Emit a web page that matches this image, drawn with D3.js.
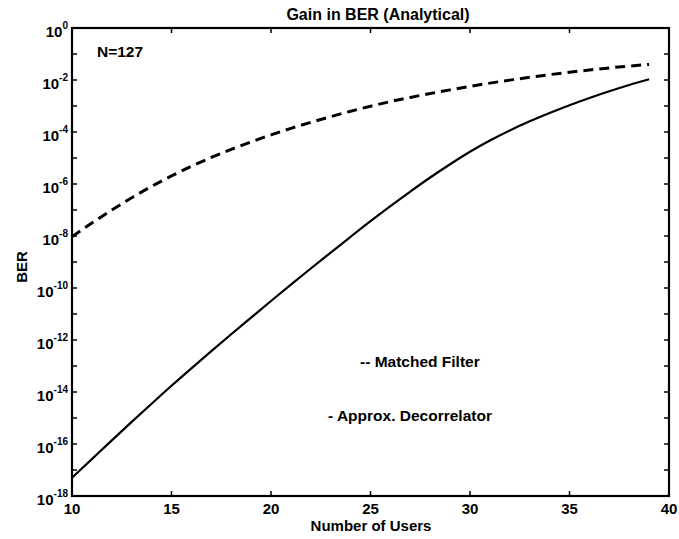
<!DOCTYPE html>
<html>
<head>
<meta charset="utf-8">
<script src="https://cdn.jsdelivr.net/npm/d3@7"></script>
<style>
  body { margin: 0; background: #fff; }
  svg text { font-family: "Liberation Sans", Arial, sans-serif; font-weight: bold; fill: #000; }
</style>
</head>
<body>
<div id="chart"></div>
<script>
// number of users
var users = [10, 11, 12, 13, 14, 15, 16, 17, 18, 19, 20, 21, 22, 23, 24,
             25, 26, 27, 28, 29, 30, 31, 32, 33, 34, 35, 36, 37, 38, 39];
// log10(BER), matched filter (dashed)
var matchedLog = [-8.03, -7.50, -7.00, -6.53, -6.09, -5.69, -5.32, -4.98, -4.67, -4.38,
                  -4.11, -3.86, -3.63, -3.41, -3.20, -3.01, -2.83, -2.67, -2.52, -2.38,
                  -2.245, -2.12, -2.005, -1.895, -1.795, -1.70, -1.615, -1.535, -1.465, -1.40];
// log10(BER), approx. decorrelator (solid)
var decorrLog = [-17.30, -16.58, -15.86, -15.15, -14.45, -13.76, -13.09, -12.43, -11.78, -11.14,
                 -10.50, -9.87, -9.25, -8.64, -8.03, -7.43, -6.85, -6.29, -5.75, -5.24,
                 -4.76, -4.33, -3.94, -3.59, -3.27, -2.97, -2.69, -2.43, -2.19, -1.97];
var xTicks = [10, 15, 20, 25, 30, 35, 40];
var yExps = d3.range(-18, 1);          // tick at every decade
var yLabelExps = d3.range(-18, 1, 2);  // label every second decade

var width = 679, height = 539;
var margin = {left: 72, right: 10, top: 28, bottom: 43};

var svg = d3.select("#chart").append("svg")
    .attr("width", width).attr("height", height);

var x = d3.scaleLinear().domain([10, 40]).range([margin.left, width - margin.right]);
var y = d3.scaleLog().domain([1e-18, 1]).range([height - margin.bottom, margin.top]);

var x0 = x.range()[0], x1 = x.range()[1], y0 = y.range()[0], y1 = y.range()[1];

// ticks on all four sides, pointing inward
var tickLen = 5;
var ticks = svg.append("g").attr("stroke", "#000").attr("stroke-width", 1.5);
xTicks.forEach(function(t) {
    ticks.append("line").attr("x1", x(t)).attr("x2", x(t)).attr("y1", y0).attr("y2", y0 - tickLen);
    ticks.append("line").attr("x1", x(t)).attr("x2", x(t)).attr("y1", y1).attr("y2", y1 + tickLen);
});
yExps.forEach(function(e) {
    var yy = y(Math.pow(10, e));
    ticks.append("line").attr("x1", x0).attr("x2", x0 + tickLen).attr("y1", yy).attr("y2", yy);
    ticks.append("line").attr("x1", x1).attr("x2", x1 - tickLen).attr("y1", yy).attr("y2", yy);
});

// frame
svg.append("rect")
    .attr("x", x0).attr("y", y1)
    .attr("width", x1 - x0).attr("height", y0 - y1)
    .attr("fill", "none").attr("stroke", "#000").attr("stroke-width", 2.2);

// x tick labels
svg.append("g").selectAll("text")
    .data(xTicks)
    .enter().append("text")
    .attr("x", function(d) { return x(d); })
    .attr("y", y0 + 18)
    .attr("text-anchor", "middle")
    .attr("font-size", 15)
    .text(function(d) { return d; });

// y tick labels: 10 with superscript exponent
var yl = svg.append("g").selectAll("text")
    .data(yLabelExps)
    .enter().append("text")
    .attr("x", x0 - 4)
    .attr("y", function(d) { return y(Math.pow(10, d)) + 9; })
    .attr("text-anchor", "end")
    .attr("font-size", 15);
yl.append("tspan").text("10");
yl.append("tspan")
    .attr("dy", -8)
    .attr("font-size", 10)
    .text(function(d) { return d === 0 ? "0" : "-" + (-d); });

// curves
var line = d3.line()
    .x(function(d) { return x(d[0]); })
    .y(function(d) { return y(Math.pow(10, d[1])); })
    .curve(d3.curveMonotoneX);

svg.append("path")
    .datum(d3.zip(users, matchedLog))
    .attr("d", line)
    .attr("fill", "none").attr("stroke", "#000")
    .attr("stroke-width", 3)
    .attr("stroke-dasharray", "10,6");

svg.append("path")
    .datum(d3.zip(users, decorrLog))
    .attr("d", line)
    .attr("fill", "none").attr("stroke", "#000")
    .attr("stroke-width", 2.2);

// titles and labels
svg.append("text")
    .attr("x", 378).attr("y", 20)
    .attr("text-anchor", "middle").attr("font-size", 16)
    .text("Gain in BER (Analytical)");

svg.append("text")
    .attr("x", 371).attr("y", 531)
    .attr("text-anchor", "middle").attr("font-size", 15)
    .text("Number of Users");

svg.append("text")
    .attr("transform", "translate(27,267) rotate(-90)")
    .attr("text-anchor", "middle").attr("font-size", 15)
    .text("BER");

svg.append("text")
    .attr("x", 97).attr("y", 57)
    .attr("font-size", 15.5)
    .text("N=127");

svg.append("text")
    .attr("x", 360).attr("y", 367)
    .attr("font-size", 15.5)
    .text("-- Matched Filter");

svg.append("text")
    .attr("x", 328).attr("y", 421)
    .attr("font-size", 15.5)
    .text("- Approx. Decorrelator");
</script>
</body>
</html>
